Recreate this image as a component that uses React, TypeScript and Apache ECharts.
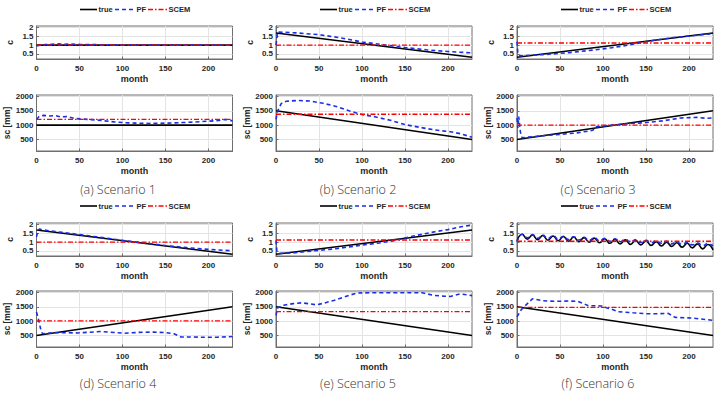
import React, { useEffect, useRef } from "react";
import * as echarts from "echarts";

// ---- axes ----
const MONTH_MAX = 228;
const monthTicks = [0, 50, 100, 150, 200];
const cTicks = [0.5, 1, 1.5, 2];
const scTicks = [500, 1000, 1500, 2000];
const cRange = [0.2, 2.1];
const scRange = [100, 2050];

const scenarioLabels = [
  "(a) Scenario 1",
  "(b) Scenario 2",
  "(c) Scenario 3",
  "(d) Scenario 4",
  "(e) Scenario 5",
  "(f) Scenario 6",
];
const seriesNames = ["true", "PF", "SCEM"];

// ---- parameter c: true trajectories [month, c] ----
const cTrue1 = [[0, 1.0], [228, 1.0]];
const cTrue2 = [[0, 1.7], [228, 0.3]];
const cTrue3 = [[0, 0.3], [228, 1.7]];
const cTrue4 = [[0, 1.7], [228, 0.3]];
const cTrue5 = [[0, 0.3], [228, 1.7]];
// seasonal c: peaks and troughs of the yearly cycle
const cTrue6 = [
  [0, 1.08], [6, 1.45], [12, 1.17], [18, 1.41], [24, 1.14], [30, 1.38], [36, 1.11],
  [42, 1.35], [48, 1.08], [54, 1.32], [60, 1.05], [66, 1.29], [72, 1.02], [78, 1.26],
  [84, 0.99], [90, 1.23], [96, 0.96], [102, 1.19], [108, 0.93], [114, 1.16], [120, 0.9],
  [126, 1.13], [132, 0.87], [138, 1.1], [144, 0.84], [150, 1.07], [156, 0.81], [162, 1.03],
  [168, 0.78], [174, 1.0], [180, 0.75], [186, 0.96], [192, 0.71], [198, 0.93], [204, 0.67],
  [210, 0.9], [216, 0.61], [222, 0.86], [228, 0.55],
];

// ---- parameter c: PF estimates ----
const cPF1 = [
  [0, 0.95], [4, 1.0], [10, 1.03], [18, 1.05], [25, 1.07], [32, 1.05], [40, 1.06],
  [50, 1.04], [60, 1.03], [80, 1.02], [100, 1.01], [140, 1.0], [228, 1.0],
];
const cPF2 = [
  [0, 1.0], [2, 1.75], [10, 1.74], [25, 1.7], [50, 1.6], [75, 1.42], [100, 1.18],
  [125, 1.02], [150, 0.86], [175, 0.73], [200, 0.63], [228, 0.55],
];
const cPF3 = [
  [0, 1.2], [1, 0.5], [4, 0.38], [10, 0.4], [30, 0.45], [60, 0.56], [90, 0.72],
  [110, 0.85], [130, 1.0], [145, 1.15], [160, 1.28], [180, 1.42], [200, 1.52], [228, 1.66],
];
const cPF4 = [
  [0, 1.3], [1, 1.5], [3, 1.75], [15, 1.65], [40, 1.5], [70, 1.3], [100, 1.1],
  [125, 0.95], [150, 0.8], [175, 0.68], [200, 0.58], [228, 0.5],
];
const cPF5 = [
  [0, 1.1], [1, 0.5], [4, 0.35], [20, 0.38], [45, 0.5], [70, 0.62], [100, 0.83],
  [120, 0.95], [140, 1.1], [155, 1.3], [170, 1.45], [185, 1.6], [200, 1.72], [215, 1.88], [228, 1.98],
];
const cPF6 = [
  [0, 1.0], [6, 1.45], [12, 1.25], [18, 1.43], [24, 1.22], [30, 1.4], [36, 1.2],
  [42, 1.37], [48, 1.17], [54, 1.34], [60, 1.14], [66, 1.31], [72, 1.12], [78, 1.28],
  [84, 1.09], [90, 1.25], [96, 1.07], [102, 1.22], [108, 1.05], [114, 1.19], [120, 1.02],
  [126, 1.16], [132, 1.0], [138, 1.13], [144, 0.98], [150, 1.1], [156, 0.96], [162, 1.07],
  [168, 0.93], [174, 1.04], [180, 0.9], [186, 1.0], [192, 0.87], [198, 0.97], [204, 0.84],
  [210, 0.94], [216, 0.8], [222, 0.9], [228, 0.78],
];

// ---- soil capacity sc [mm]: true trajectories ----
const scTrue1 = [[0, 1000], [228, 1000]];
const scTrue2 = [[0, 1500], [228, 500]];
const scTrue3 = [[0, 500], [228, 1500]];
const scTrue4 = [[0, 500], [228, 1500]];
const scTrue5 = [[0, 1500], [228, 500]];
const scTrue6 = [[0, 1500], [228, 500]];

// ---- soil capacity sc [mm]: PF estimates ----
const scPF1 = [
  [0, 1200], [3, 1300], [8, 1340], [15, 1320], [22, 1330], [28, 1290], [35, 1300],
  [45, 1230], [55, 1210], [70, 1180], [85, 1130], [100, 1090], [115, 1070], [130, 1060],
  [150, 1070], [170, 1090], [185, 1110], [200, 1140], [212, 1160], [220, 1200], [228, 1150],
];
const scPF2 = [
  [0, 1200], [2, 1500], [6, 1750], [12, 1830], [25, 1860], [40, 1840], [55, 1760],
  [70, 1650], [85, 1500], [100, 1370], [115, 1290], [133, 1170], [150, 1020], [168, 920],
  [185, 830], [203, 770], [215, 700], [228, 580],
];
const scPF3 = [
  [0, 1250], [1, 900], [2, 1300], [4, 750], [6, 560], [12, 580], [30, 630], [50, 680],
  [70, 730], [88, 820], [92, 940], [110, 1000], [130, 1050], [150, 1090], [170, 1150],
  [190, 1250], [210, 1270], [220, 1240], [228, 1250],
];
const scPF4 = [
  [0, 1320], [3, 980], [5, 700], [7, 560], [20, 600], [48, 590], [75, 640], [102, 580],
  [120, 610], [137, 620], [150, 600], [160, 560], [168, 450], [180, 450], [192, 440],
  [210, 440], [228, 465],
];
const scPF5 = [
  [0, 1200], [2, 1470], [10, 1560], [20, 1610], [30, 1640], [40, 1600], [47, 1570],
  [55, 1620], [67, 1720], [78, 1830], [86, 1910], [95, 1980], [110, 1990], [130, 1990],
  [150, 1990], [170, 1990], [183, 1900], [195, 1870], [203, 1860], [214, 1950], [228, 1890],
];
const scPF6 = [
  [0, 1150], [5, 1400], [10, 1550], [18, 1780], [30, 1710], [44, 1690], [60, 1700],
  [71, 1690], [83, 1540], [98, 1530], [104, 1470], [110, 1420], [118, 1330], [135, 1290],
  [149, 1260], [165, 1260], [176, 1270], [184, 1130], [203, 1110], [219, 1060], [228, 1030],
];

// ---- SCEM calibrated constants per scenario ----
const scemC = [1.0, 1.0, 1.12, 1.0, 1.12, 1.05];
const scemSc = [1200, 1380, 1000, 1010, 1330, 1480];

const cTrueAll = [cTrue1, cTrue2, cTrue3, cTrue4, cTrue5, cTrue6];
const cPFAll = [cPF1, cPF2, cPF3, cPF4, cPF5, cPF6];
const scTrueAll = [scTrue1, scTrue2, scTrue3, scTrue4, scTrue5, scTrue6];
const scPFAll = [scPF1, scPF2, scPF3, scPF4, scPF5, scPF6];

// ---- layout ----
const colLeft = [36.5, 276, 517];
const plotWidth = 196;
const cTop = [26, 223];
const cHeight = 33;
const scTop = [95, 291];
const scHeight = 56;
const legendY = [9.5, 206];
const legendCenter = [134, 374, 615];
// legend item offsets from the legend centre: line start, line end, text start
const legendSlots = [
  [-54, -37, -35.5],
  [-19, 1, 2.5],
  [14, 33, 34.5],
];
const captionX = [118, 358, 598];
const captionY = [189, 383];

const FONT = "'Liberation Sans', Arial, sans-serif";
const AXIS_COLOR = "#6e6e6e";
const TEXT_COLOR = "#262626";
const GRID_COLOR = "#e3e3e3";

const styles: Record<string, { color: string; width: number; type: any }> = {
  true: { color: "#000000", width: 1.6, type: "solid" },
  PF: { color: "#1a2ee6", width: 1.6, type: [4, 3] },
  SCEM: { color: "#ff0000", width: 1.3, type: [5, 2, 1.5, 2] },
};

const plainNumber = (v: number) => String(v);

function buildOption() {
  const grid: any[] = [];
  const xAxis: any[] = [];
  const yAxis: any[] = [];
  const series: any[] = [];
  const graphic: any[] = [];

  const labelStyle = {
    fontFamily: FONT,
    fontWeight: "bold",
    fontSize: 8,
    color: TEXT_COLOR,
    formatter: plainNumber,
  };

  const addPanel = (
    left: number,
    top: number,
    height: number,
    range: number[],
    ticks: number[],
    yName: string
  ) => {
    const idx = grid.length;
    grid.push({
      left,
      top,
      width: plotWidth,
      height,
      show: true,
      borderColor: AXIS_COLOR,
      borderWidth: 1,
      backgroundColor: "#ffffff",
      outerBoundsMode: "none",
    });
    xAxis.push({
      gridIndex: idx,
      type: "value",
      min: 0,
      max: MONTH_MAX,
      interval: 50,
      name: "month",
      nameLocation: "middle",
      nameGap: 15,
      nameTextStyle: { fontFamily: FONT, fontWeight: "bold", fontSize: 9, color: TEXT_COLOR },
      axisLine: { show: true, lineStyle: { color: AXIS_COLOR, width: 1 } },
      axisTick: { show: true, inside: true, length: 2.5, customValues: monthTicks, lineStyle: { color: AXIS_COLOR } },
      axisLabel: { ...labelStyle, margin: 5, customValues: monthTicks },
      splitLine: { show: true, lineStyle: { color: GRID_COLOR, width: 1 } },
    });
    yAxis.push({
      gridIndex: idx,
      type: "value",
      min: range[0],
      max: range[1],
      name: yName,
      nameLocation: "middle",
      nameGap: 22,
      nameRotate: 90,
      nameTextStyle: { fontFamily: FONT, fontWeight: "bold", fontSize: 8.5, color: TEXT_COLOR },
      axisLine: { show: true, lineStyle: { color: AXIS_COLOR, width: 1 } },
      axisTick: { show: true, inside: true, length: 2.5, customValues: ticks, lineStyle: { color: AXIS_COLOR } },
      axisLabel: { ...labelStyle, margin: 3, customValues: ticks },
      splitLine: { show: true, lineStyle: { color: GRID_COLOR, width: 1 } },
    });
    return idx;
  };

  const addLines = (idx: number, trueData: number[][], pfData: number[][], scem: number, smooth: boolean) => {
    const common = { type: "line", xAxisIndex: idx, yAxisIndex: idx, symbol: "none", animation: false };
    series.push({
      ...common,
      name: "true",
      data: trueData,
      smooth: smooth ? 0.5 : false,
      lineStyle: styles.true,
      itemStyle: { color: styles.true.color },
    });
    series.push({
      ...common,
      name: "PF",
      data: pfData,
      smooth: smooth ? 0.5 : false,
      lineStyle: styles.PF,
      itemStyle: { color: styles.PF.color },
    });
    series.push({
      ...common,
      name: "SCEM",
      data: [[0, scem], [MONTH_MAX, scem]],
      lineStyle: styles.SCEM,
      itemStyle: { color: styles.SCEM.color },
    });
  };

  for (let i = 0; i < 6; i++) {
    const col = i % 3;
    const row = Math.floor(i / 3);
    const left = colLeft[col];
    const cIdx = addPanel(left, cTop[row], cHeight, cRange, cTicks, "c");
    addLines(cIdx, cTrueAll[i], cPFAll[i], scemC[i], i === 5);
    const sIdx = addPanel(left, scTop[row], scHeight, scRange, scTicks, "sc [mm]");
    addLines(sIdx, scTrueAll[i], scPFAll[i], scemSc[i], false);

    // legend row above each scenario: line sample + series name
    const cx = legendCenter[col];
    const ly = legendY[row];
    seriesNames.forEach((name, k) => {
      const st = styles[name];
      const [x1, x2, tx] = legendSlots[k];
      graphic.push({
        type: "line",
        shape: { x1: cx + x1, y1: ly, x2: cx + x2, y2: ly },
        style: {
          stroke: st.color,
          lineWidth: st.width,
          lineDash: Array.isArray(st.type) ? st.type : null,
        },
      });
      graphic.push({
        type: "text",
        x: cx + tx,
        y: ly,
        style: {
          text: name,
          align: "left",
          verticalAlign: "middle",
          fontFamily: FONT,
          fontWeight: "bold",
          fontSize: 7.5,
          fill: TEXT_COLOR,
        },
      });
    });

    graphic.push({
      type: "text",
      x: captionX[col],
      y: captionY[row],
      style: {
        text: scenarioLabels[i],
        align: "center",
        verticalAlign: "middle",
        fontFamily: "'Open Sans', 'Noto Sans', sans-serif",
        fontWeight: 300,
        fontSize: 12.5,
        fill: "#333333",
      },
    });
  }

  return {
    animation: false,
    backgroundColor: "#ffffff",
    grid,
    xAxis,
    yAxis,
    series,
    graphic,
  };
}

export default function App() {
  const ref = useRef<HTMLDivElement>(null);
  useEffect(() => {
    if (!ref.current) return;
    const chart = echarts.init(ref.current, undefined, { renderer: "svg" });
    chart.setOption(buildOption() as any);
    return () => chart.dispose();
  }, []);
  return (
    <div
      ref={ref}
      style={{ position: "absolute", left: 0, top: 0, width: 717, height: 393, background: "#fff" }}
    />
  );
}
